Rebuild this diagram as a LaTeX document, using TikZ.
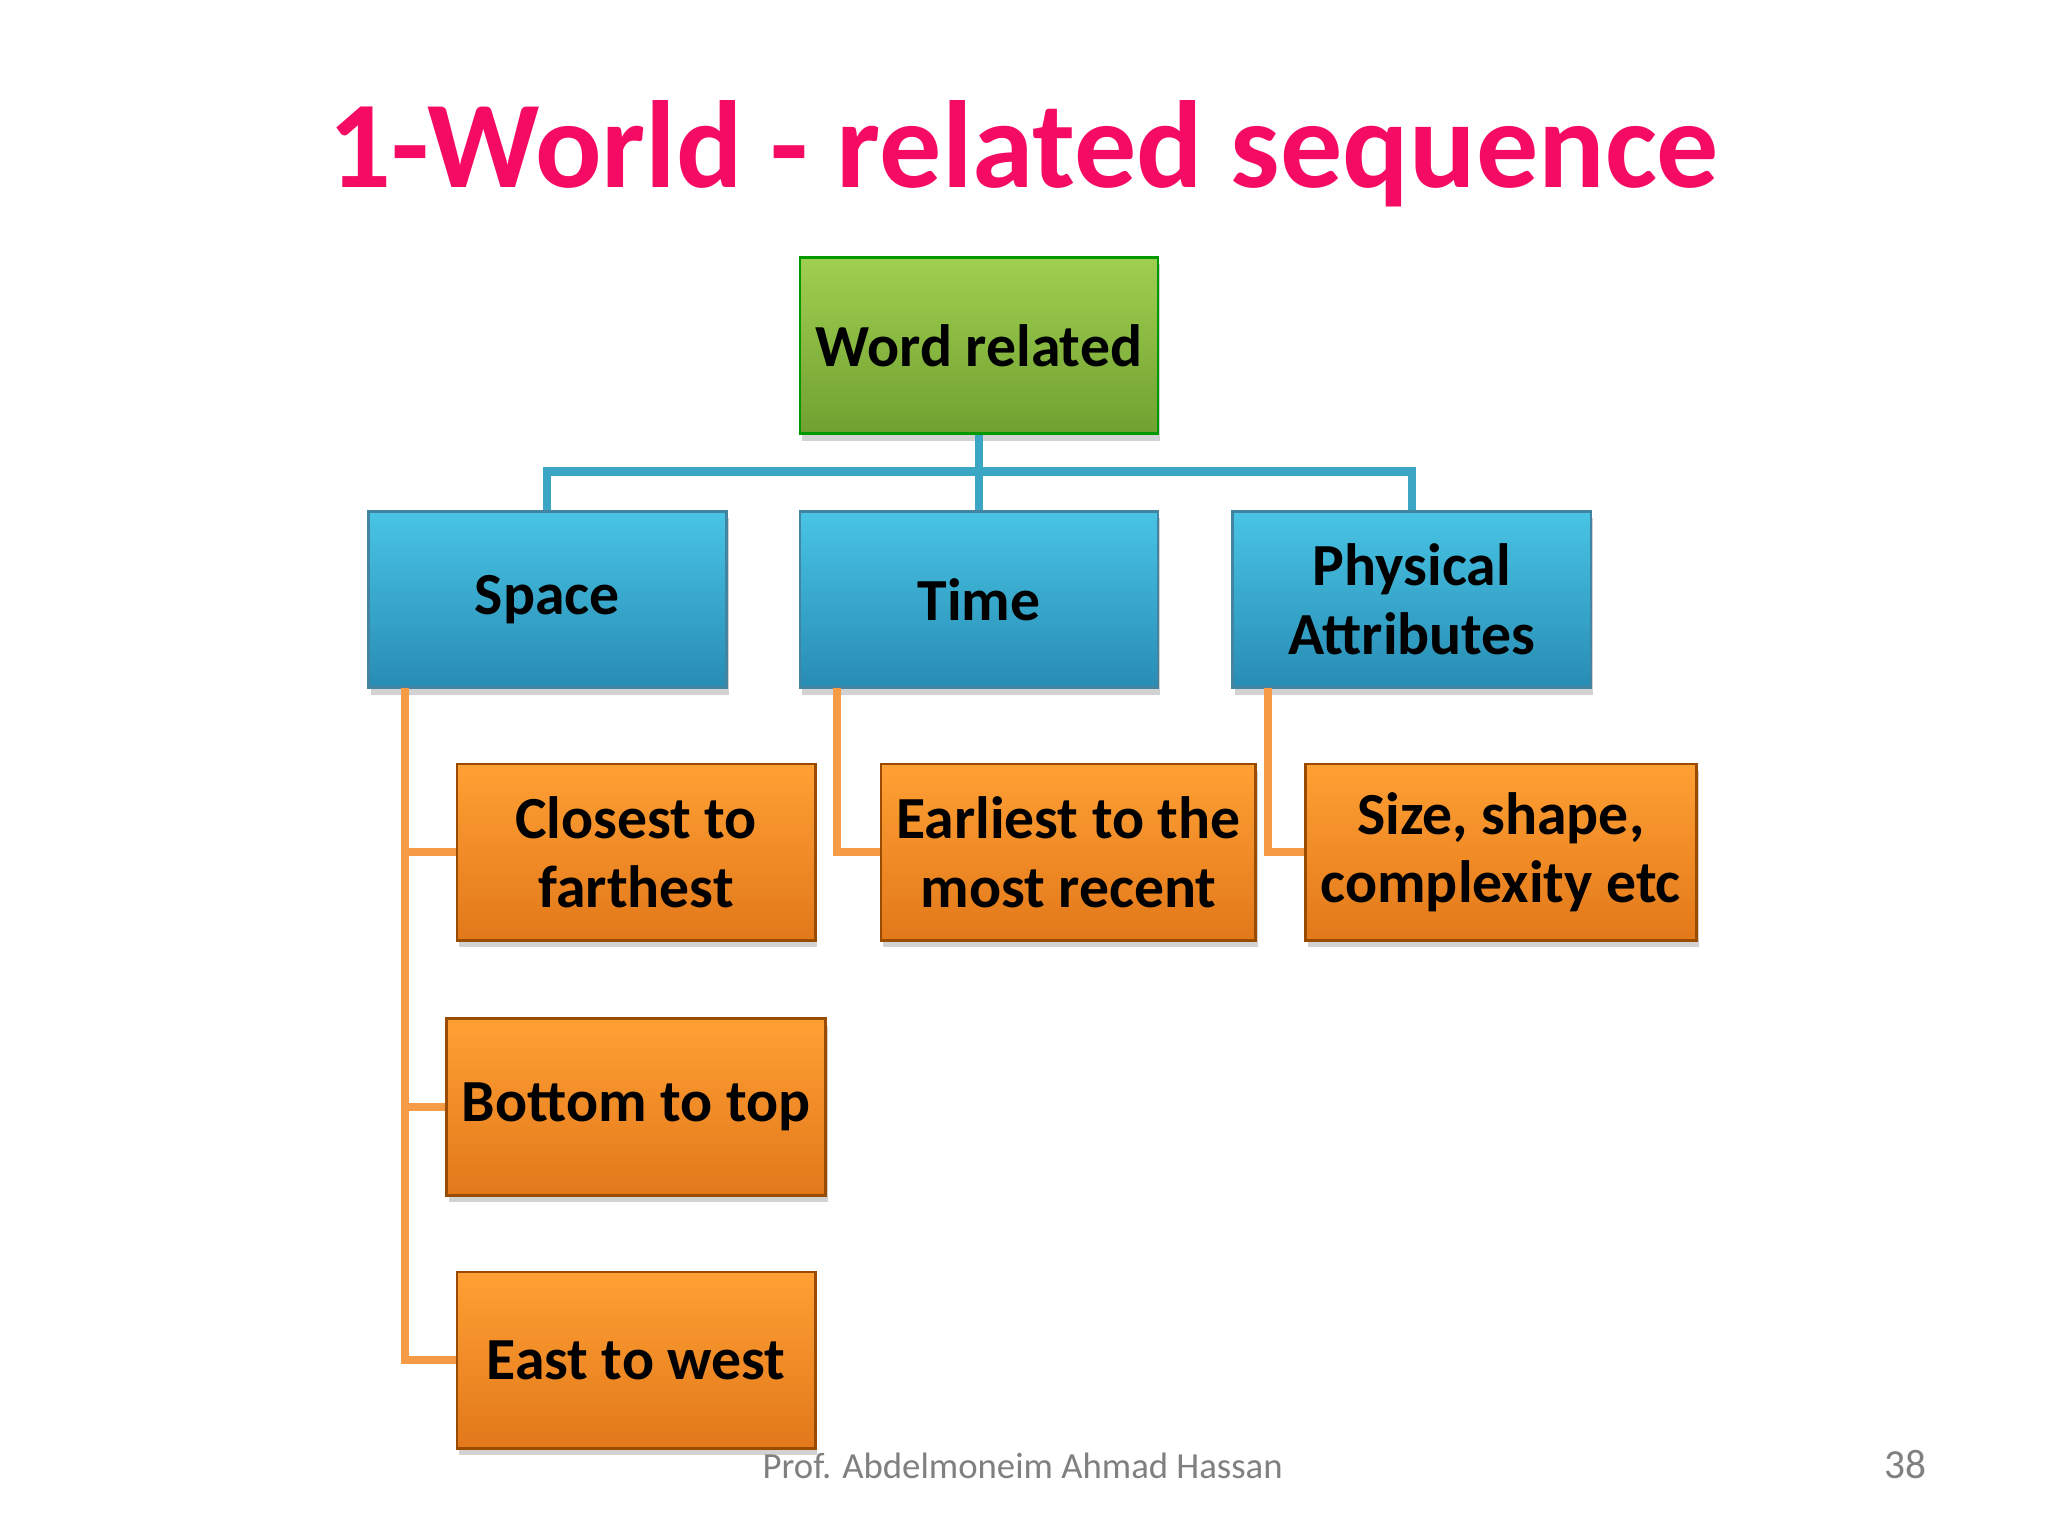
\documentclass[tikz,border=0pt]{standalone}
\usepackage{fontspec}
\setmainfont{Carlito}
\usetikzlibrary{shadows}
\definecolor{titlec}{HTML}{F50A64}
\definecolor{teal}{HTML}{3AA6C4}
\definecolor{orl}{HTML}{F59A45}
\tikzset{
 bx/.style={draw=#1!60!black,line width=0.6pt,minimum width=2.74cm,minimum height=1.35cm,align=center,font=\bfseries\fontsize{13}{15}\selectfont,drop shadow={shadow xshift=0.5pt,shadow yshift=-1.5pt,opacity=0.35}},
 gb/.style={bx=green,top color={rgb,255:red,160;green,208;blue,80},bottom color={rgb,255:red,112;green,160;blue,48}},
 bb/.style={bx=cyan,top color={rgb,255:red,72;green,196;blue,228},bottom color={rgb,255:red,40;green,140;blue,180}},
 ob/.style={bx=orange,top color={rgb,255:red,255;green,160;blue,52},bottom color={rgb,255:red,226;green,120;blue,26}},
 tl/.style={draw=teal,line width=1.8pt},
 ol/.style={draw=orl,line width=1.8pt}
}
\begin{document}
\begin{tikzpicture}[x=0.01cm,y=-0.01cm]
\fill[white] (0,0) rectangle (1568,1176);
\node[font=\bfseries\fontsize{27}{30}\selectfont,text=titlec] (title) at (784,118) {1-World - related sequence};
\node[gb] (w) at (749.5,264.5) {Word related};
\node[bb] (s) at (419,459) {Space};
\node[bb] (t) at (749.5,459) {Time};
\node[bb] (p) at (1081,459) {Physical\\Attributes};
\node[ob] (c) at (487,652.5) {Closest to\\farthest};
\node[ob] (e) at (818,652.5) {Earliest to the\\most recent};
\node[ob] (z) at (1149,652.5) {Size, shape,\\complexity etc};
\node[ob] (b) at (487,847.5) {Bottom to top};
\node[ob] (ew) at (487,1041.5) {East to west};
\draw[tl] (w.south) -- (749.5,361) -| (s.north);
\draw[tl] (749.5,361) -- (t.north);
\draw[tl] (749.5,361) -| (p.north);
\draw[ol] (310,527) |- (ew.west);
\draw[ol] (310,652.5) -- (c.west);
\draw[ol] (310,847.5) -- (b.west);
\draw[ol] (641,527) |- (e.west);
\draw[ol] (971,527) |- (z.west);
\node[text=gray,font=\fontsize{8}{10}\selectfont] (f) at (783,1122) {Prof. Abdelmoneim Ahmad Hassan};
\node[text=gray,font=\fontsize{9}{10}\selectfont] (n) at (1459,1121) {38};
\end{tikzpicture}
\end{document}
